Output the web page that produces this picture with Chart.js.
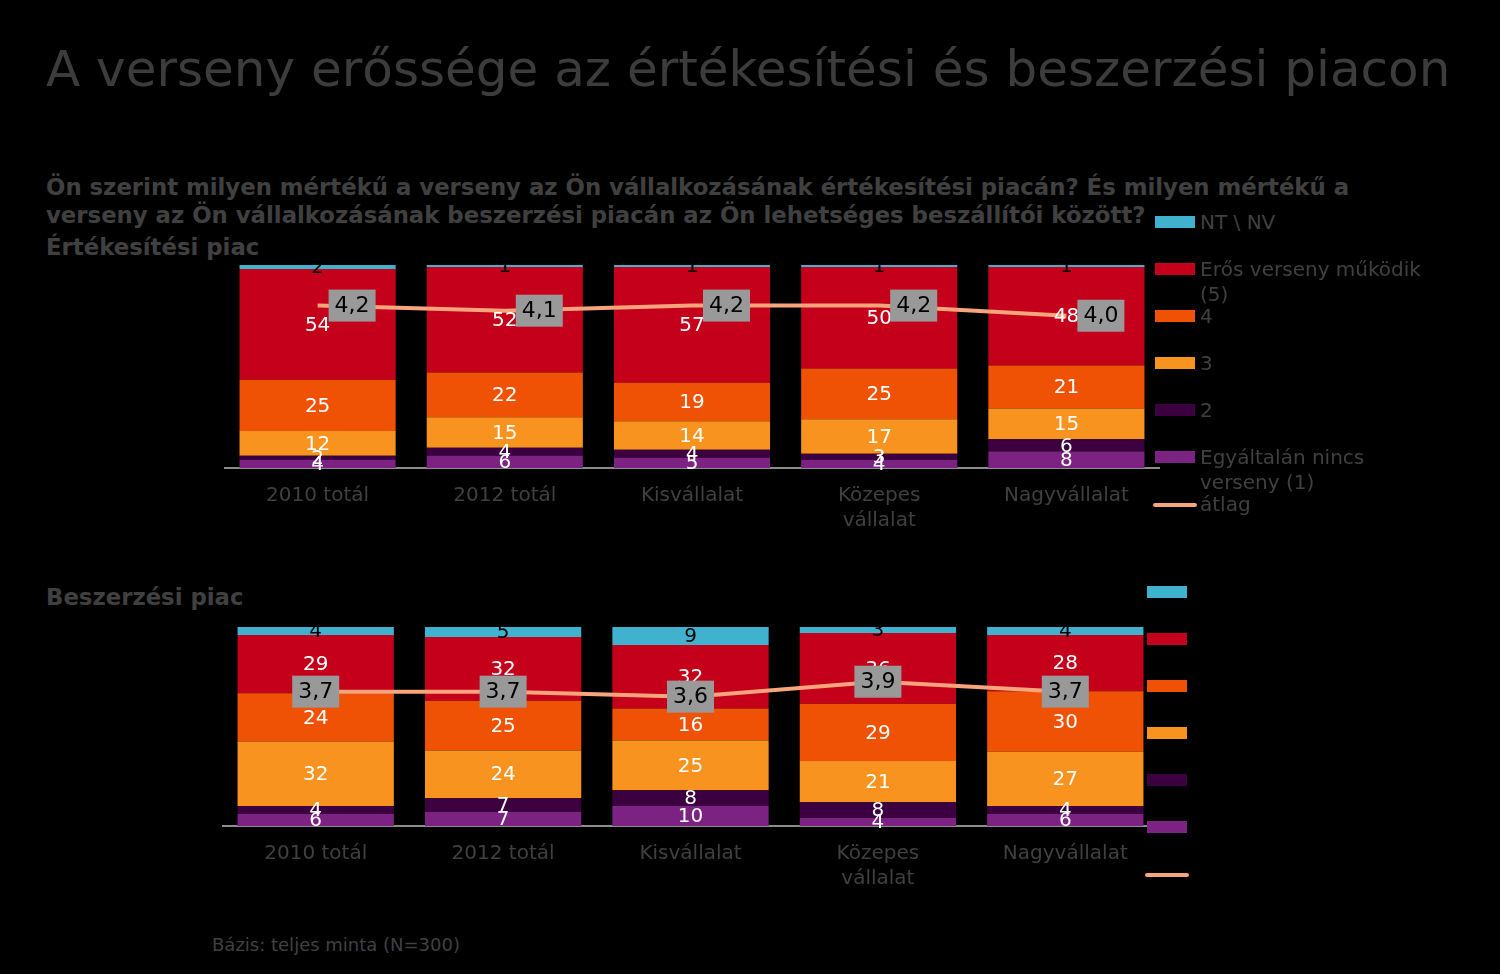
<!DOCTYPE html>
<html>
<head>
<meta charset="utf-8">
<script src="https://cdn.jsdelivr.net/npm/chart.js@4.4.1/dist/chart.umd.min.js"></script>
<style>
    body { margin: 0; background: #000; width: 1500px; height: 974px; overflow: hidden; font-family: "DejaVu Sans", sans-serif; color: #404040; }
    .abs { position: absolute; white-space: nowrap; }
    #title { left: 46px; top: 44px; font-size: 50px; line-height: 50px; color: #3c3c3c; }
    .sub { left: 46px; font-size: 22.8px; line-height: 28px; font-weight: bold; }
    .lgText { font-size: 20px; line-height: 25px; white-space: normal; width: 250px; }
    canvas { position: absolute; }
</style>
</head>
<body>
<div id="title" class="abs">A verseny erőssége az értékesítési és beszerzési piacon</div>
<div class="abs sub" style="top:173px">Ön szerint milyen mértékű a verseny az Ön vállalkozásának értékesítési piacán? És milyen mértékű a<br>verseny az Ön vállalkozásának beszerzési piacán az Ön lehetséges beszállítói között?</div>
<div class="abs sub" style="top:233px">Értékesítési piac</div>
<div class="abs sub" style="top:583px">Beszerzési piac</div>
<div class="abs" style="left:212px; top:933px; font-size:18px; line-height:24px;">Bázis: teljes minta (N=300)</div>

<canvas id="salesChart" width="936" height="280" style="left:224px; top:255px;"></canvas>
<canvas id="purchChart" width="937" height="276" style="left:222px; top:617px;"></canvas>
<div id="legendTop"></div>
<div id="legendBottom"></div>

<script>
// categories and series (stack order bottom -> top)
const categories = ["2010 totál", "2012 totál", "Kisvállalat", ["Közepes", "vállalat"], "Nagyvállalat"];
const seriesNames = ["Egyáltalán nincs verseny (1)", "2", "3", "4", "Erős verseny működik (5)", "NT \\ NV"];
const avgName = "átlag";

// Értékesítési piac (%)
const salesR1 = [4, 6, 5, 4, 8];
const salesR2 = [2, 4, 4, 3, 6];
const salesR3 = [12, 15, 14, 17, 15];
const salesR4 = [25, 22, 19, 25, 21];
const salesR5 = [54, 52, 57, 50, 48];
const salesNT = [2, 1, 1, 1, 1];
const salesAvg = [4.2, 4.1, 4.2, 4.2, 4.0];

// Beszerzési piac (%)
const purchR1 = [6, 7, 10, 4, 6];
const purchR2 = [4, 7, 8, 8, 4];
const purchR3 = [32, 24, 25, 21, 27];
const purchR4 = [24, 25, 16, 29, 30];
const purchR5 = [29, 32, 32, 36, 28];
const purchNT = [4, 5, 9, 3, 4];
const purchAvg = [3.7, 3.7, 3.6, 3.9, 3.7];

const colors = ["#7B2282", "#3C0040", "#F7931E", "#F05205", "#C4001A", "#40B2CF"];
const labelColors = ["#fff", "#fff", "#fff", "#fff", "#fff", "#000"];
const avgColor = "#F8A57C";
const FONT = "DejaVu Sans";

const segLabels = {
    id: "segLabels",
    afterDatasetsDraw(chart, args, opts) {
        const ctx = chart.ctx;
        ctx.save();
        ctx.textAlign = "center";
        ctx.textBaseline = "middle";
        chart.data.datasets.forEach((ds, i) => {
            const meta = chart.getDatasetMeta(i);
            if (ds.type === "line") return;
            ctx.font = "20px '" + FONT + "'";
            ctx.fillStyle = labelColors[i];
            meta.data.forEach((el, j) => {
                const p = el.getProps(["x", "y", "base"], true);
                ctx.fillText(ds.raw[j], p.x, (p.y + p.base) / 2 + 1);
            });
        });
        // average boxes
        chart.data.datasets.forEach((ds, i) => {
            if (ds.type !== "line") return;
            const meta = chart.getDatasetMeta(i);
            ctx.font = "22px '" + FONT + "'";
            meta.data.forEach((pt, j) => {
                const txt = ds.data[j].toFixed(1).replace(".", ",");
                const w = ctx.measureText(txt).width + 12;
                const h = 32;
                const left = opts.align === "right" ? pt.x + 11 : pt.x - w / 2;
                ctx.fillStyle = "#999999";
                ctx.fillRect(left, pt.y - h / 2, w, h);
                ctx.fillStyle = "#000";
                ctx.fillText(txt, left + w / 2, pt.y + 1);
            });
        });
        ctx.restore();
    }
};

function makeChart(id, series, avg, align) {
    // 100% stacked: each column scaled to its own total
    const totals = categories.map((c, j) => series.reduce((sum, s) => sum + s[j], 0));
    const datasets = series.map((data, i) => ({
        type: "bar",
        label: seriesNames[i],
        raw: data,
        data: data.map((v, j) => v / totals[j] * 100),
        backgroundColor: colors[i],
        borderWidth: 0,
        stack: "s",
        order: 1,
        barPercentage: 0.834,
        categoryPercentage: 1
    }));
    datasets.push({
        type: "line",
        label: avgName,
        data: avg,
        borderColor: avgColor,
        borderWidth: 4,
        pointRadius: 0,
        yAxisID: "y1",
        order: 0,
        clip: false
    });
    return new Chart(document.getElementById(id), {
        data: { labels: categories, datasets: datasets },
        options: {
            responsive: false,
            animation: false,
            layout: { padding: { top: 10, left: 0, right: 0, bottom: 0 } },
            plugins: { legend: { display: false }, tooltip: { enabled: false }, segLabels: { align: align } },
            scales: {
                x: {
                    stacked: true,
                    grid: { display: false },
                    border: { display: true, color: "#8c8c8c", width: 2 },
                    ticks: { color: "#404040", padding: 7, maxRotation: 0, autoSkip: false, font: { family: FONT, size: 20, lineHeight: 1.25 } },
                    afterFit: s => { s.height = 67; }
                },
                y: { stacked: true, display: false, min: 0, max: 100 },
                y1: { display: false, min: 1, max: 5 }
            }
        },
        plugins: [segLabels]
    });
}

makeChart("salesChart", [salesR1, salesR2, salesR3, salesR4, salesR5, salesNT], salesAvg, "right");
makeChart("purchChart", [purchR1, purchR2, purchR3, purchR4, purchR5, purchNT], purchAvg, "center");

function buildLegend(elId, boxLeft, firstTop, withText) {
    const el = document.getElementById(elId);
    const order = [5, 4, 3, 2, 1, 0];
    order.forEach((si, k) => {
        const top = firstTop + 47 * k;
        const box = document.createElement("div");
        box.className = "abs";
        box.style.cssText = `left:${boxLeft}px; top:${top}px; width:40px; height:12px; background:${colors[si]};`;
        el.appendChild(box);
        if (withText) {
            const t = document.createElement("div");
            t.className = "abs lgText";
            t.style.cssText = `left:${boxLeft + 45}px; top:${top - 6}px;`;
            t.textContent = seriesNames[si];
            el.appendChild(t);
        }
    });
    const lineTop = firstTop + 47 * 6 + 5;
    const ln = document.createElement("div");
    ln.className = "abs";
    ln.style.cssText = `left:${boxLeft - 2}px; top:${lineTop}px; width:44px; height:4px; border-radius:2px; background:${avgColor};`;
    el.appendChild(ln);
    if (withText) {
        const t = document.createElement("div");
        t.className = "abs lgText";
        t.style.cssText = `left:${boxLeft + 45}px; top:${lineTop - 11}px;`;
        t.textContent = avgName;
        el.appendChild(t);
    }
}
buildLegend("legendTop", 1155, 216, true);
buildLegend("legendBottom", 1147, 586, false);
</script>
</body>
</html>
